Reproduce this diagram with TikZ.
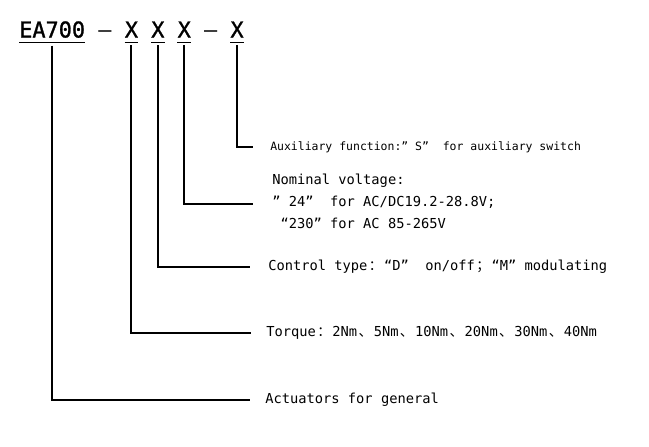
\documentclass[tikz,border=0pt]{standalone}
\usepackage{fontspec}
\setmonofont{DejaVu Sans Mono}
\newfontfamily\codefont[FakeBold=1.2]{DejaVu Sans Mono}
\newfontfamily\cjk{Noto Sans CJK SC}
\newcommand{\fullw}[1]{\makebox[1.204em][c]{\cjk #1}}
\begin{document}
\begin{tikzpicture}[x=0.75pt,y=-0.75pt,
  code/.style={inner sep=0pt,anchor=base west,font=\codefont\fontsize{16.4}{18}\selectfont},
  note/.style={inner sep=0pt,anchor=west,align=left,font=\ttfamily\fontsize{10.3}{16.5}\selectfont},
  smallnote/.style={note,font=\ttfamily\fontsize{8.6}{10}\selectfont},
  uline/.style={line width=0.75pt},
  lead/.style={line width=1.5pt,shorten <=5.6pt}]
  \useasboundingbox (0,0) rectangle (649,446);
  % the type code
  \node[code] (ea) at (19,37.5) {EA700};
  \node[code] (d1) at (98.2,37.5) {\ttfamily –};
  \node[code] (x1) at (124.6,37.5) {X};
  \node[code] (x2) at (151,37.5) {X};
  \node[code] (x3) at (177.4,37.5) {X};
  \node[code] (d2) at (203.8,37.5) {\ttfamily –};
  \node[code] (x4) at (230.2,37.5) {X};
  \foreach \n in {ea,x1,x2,x3,x4}
    \draw[uline] ([yshift=-3.4pt]\n.south west) -- ([yshift=-3.4pt]\n.south east);
  % the meanings
  \node[smallnote] (aux) at (270,147) {Auxiliary function:” S”\ \ for auxiliary switch};
  \node[note] (volt) at (272,201) {Nominal voltage:\\
    ” 24”\ \ for AC/DC19.2-28.8V;\\
    \hphantom{0}“230” for AC 85-265V};
  \node[note] (ctrl) at (268,267) {Control type\fullw{：}“D”\ \ on/off\fullw{；}“M” modulating};
  \node[note] (torq) at (266,333) {Torque\fullw{：}2Nm\fullw{、}5Nm\fullw{、}10Nm\fullw{、}20Nm\fullw{、}30Nm\fullw{、}40Nm};
  \node[note] (gen) at (265,400) {Actuators for general};
  % the leaders
  \draw[lead,shorten >=12.75pt] (x4.south) |- (aux.west);
  \draw[lead,shorten >=14.25pt] (x3.south) |- ([yshift=-2.25pt]volt.west);
  \draw[lead,shorten >=13.5pt] (x2.south) |- (ctrl.west);
  \draw[lead,shorten >=11.25pt] (x1.south) |- (torq.west);
  \draw[lead,shorten >=11.25pt] (ea.south) |- (gen.west);
\end{tikzpicture}
\end{document}
